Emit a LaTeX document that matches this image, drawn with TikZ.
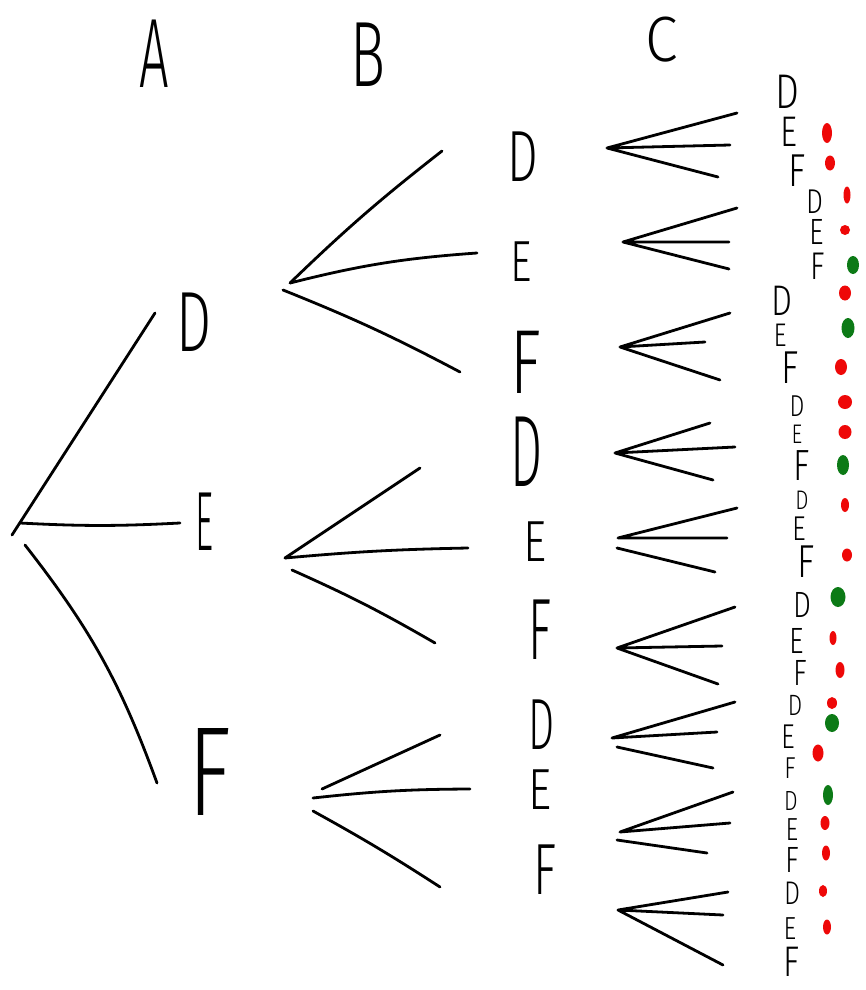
\documentclass[tikz,border=0pt]{standalone}
\usepackage{fontspec}
\usepackage{graphicx}
\newfontfamily\handfont{Fira Sans Light}
\definecolor{dotred}{RGB}{238,8,8}
\definecolor{dotgreen}{RGB}{12,122,22}
% #1 horizontal squeeze, #2 font size (pt), #3 letter
\newcommand\glyph[3]{\scalebox{#1}[1]{\fontsize{#2}{#2}\selectfont\handfont #3}}
% smaller letters of the outcome column
\newcommand\cglyph[2]{\scalebox{0.65}[0.84]{\fontsize{#1}{#1}\selectfont\handfont #2}}
\tikzset{
  stroke/.style={line width=2.8pt, line cap=round, line join=round, black},
  lbl/.style={inner sep=0pt, outer sep=0pt, anchor=center},
  rdot/.style={fill=dotred},
  gdot/.style={fill=dotgreen},
}
\begin{document}
\begin{tikzpicture}[x=1pt,y=1pt]
\fill[white] (0,0) rectangle (865,-990);
\useasboundingbox (0,0) rectangle (865,-990);

% column headers
\node[lbl] (hA) at (154,-54) {\glyph{0.53}{98.6}{A}};
\node[lbl] (hB) at (368,-55) {\glyph{0.63}{92.8}{B}};
\node[lbl] (hC) at (662,-40) {\glyph{0.92}{64}{C}};

% first level
\coordinate (root) at (20,-523);
\coordinate (rootTail) at (12,-535);
\coordinate (rootLow) at (25,-545);
\node[lbl] (D1) at (194,-322) {\glyph{0.65}{85.5}{D}};
\node[lbl] (E1) at (205,-522) {\glyph{0.42}{84}{E}};
\node[lbl] (F1) at (210,-772) {\glyph{0.70}{127}{F}};
\coordinate (tD1) at (155,-313);
\coordinate (tE1) at (180,-523);
\coordinate (tF1) at (157,-783);
\draw[stroke] (rootTail) -- (tD1);
\draw[stroke] (root) to[bend right=3] (tE1);
\draw[stroke] (rootLow) to[bend left=9] (tF1);

% second level, below D
\coordinate (oDa) at (290,-283);
\coordinate (oDb) at (283,-290);
\node[lbl] (DD) at (523,-157) {\glyph{0.67}{72.5}{D}};
\node[lbl] (DE) at (521,-262) {\glyph{0.72}{58}{E}};
\node[lbl] (DF) at (526,-362) {\glyph{0.70}{91}{F}};
\coordinate (tDD) at (442,-151);
\coordinate (tDE) at (477,-253);
\coordinate (tDF) at (460,-372);
\draw[stroke] (oDa) to[bend left=3] (tDD);
\draw[stroke] (oDa) to[bend left=5] (tDE);
\draw[stroke] (oDb) to[bend left=3] (tDF);

% second level, below E
\coordinate (oEa) at (285,-558);
\coordinate (oEb) at (292,-570);
\node[lbl] (ED) at (527,-452) {\glyph{0.50}{101.5}{D}};
\node[lbl] (EE) at (535,-542) {\glyph{0.78}{58}{E}};
\node[lbl] (EF) at (540,-630) {\glyph{0.55}{87}{F}};
\coordinate (tED) at (420,-468);
\coordinate (tEE) at (468,-548);
\coordinate (tEF) at (435,-643);
\draw[stroke] (oEa) -- (tED);
\draw[stroke] (oEa) to[bend left=2] (tEE);
\draw[stroke] (oEb) to[bend left=3] (tEF);

% second level, below F
\coordinate (oFa) at (322,-789);
\coordinate (oFb) at (313,-798);
\coordinate (oFc) at (313,-811);
\node[lbl] (FD) at (542,-725) {\glyph{0.57}{72.5}{D}};
\node[lbl] (FE) at (540,-790) {\glyph{0.78}{58}{E}};
\node[lbl] (FF) at (545,-870) {\glyph{0.66}{72.5}{F}};
\coordinate (tFD) at (440,-735);
\coordinate (tFE) at (470,-789);
\coordinate (tFF) at (440,-887);
\draw[stroke] (oFa) -- (tFD);
\draw[stroke] (oFb) to[bend left=3] (tFE);
\draw[stroke] (oFc) to[bend left=2] (tFF);

% third level fans
\coordinate (o1) at (607,-148);
\coordinate (o2) at (623,-242);
\coordinate (o3) at (620,-347);
\coordinate (o4) at (615,-453);
\coordinate (o5) at (618,-538);
\coordinate (o5l) at (617,-548);
\coordinate (o6) at (617,-648);
\coordinate (o7) at (612,-738);
\coordinate (o7l) at (617,-747);
\coordinate (o8) at (620,-832);
\coordinate (o8l) at (617,-840);
\coordinate (o9) at (618,-910);

\coordinate (t1a) at (737,-113); \coordinate (t1b) at (730,-145); \coordinate (t1c) at (718,-177);
\coordinate (t2a) at (737,-208); \coordinate (t2b) at (729,-242); \coordinate (t2c) at (729,-269);
\coordinate (t3a) at (730,-313); \coordinate (t3b) at (705,-342); \coordinate (t3c) at (720,-380);
\coordinate (t4a) at (710,-423); \coordinate (t4b) at (735,-447); \coordinate (t4c) at (713,-480);
\coordinate (t5a) at (737,-508); \coordinate (t5b) at (727,-538); \coordinate (t5c) at (715,-572);
\coordinate (t6a) at (735,-607); \coordinate (t6b) at (722,-646); \coordinate (t6c) at (718,-684);
\coordinate (t7a) at (735,-702); \coordinate (t7b) at (717,-732); \coordinate (t7c) at (713,-768);
\coordinate (t8a) at (733,-792); \coordinate (t8b) at (730,-823); \coordinate (t8c) at (707,-853);
\coordinate (t9a) at (728,-892); \coordinate (t9b) at (723,-915); \coordinate (t9c) at (723,-965);

\draw[stroke] (o1) -- (t1a) (o1) -- (t1b) (o1) -- (t1c);
\draw[stroke] (o2) -- (t2a) (o2) -- (t2b) (o2) -- (t2c);
\draw[stroke] (o3) -- (t3a) (o3) -- (t3b) (o3) -- (t3c);
\draw[stroke] (o4) -- (t4a) (o4) -- (t4b) (o4) -- (t4c);
\draw[stroke] (o5) -- (t5a) (o5) -- (t5b) (o5l) -- (t5c);
\draw[stroke] (o6) -- (t6a) (o6) -- (t6b) (o6) -- (t6c);
\draw[stroke] (o7) -- (t7a) (o7) -- (t7b) (o7l) -- (t7c);
\draw[stroke] (o8) -- (t8a) (o8) -- (t8b) (o8l) -- (t8c);
\draw[stroke] (o9) -- (t9a) (o9) -- (t9b) (o9) -- (t9c);

% outcome letters
\node[lbl] (c1D) at (787,-92)  {\cglyph{58}{D}};
\node[lbl] (c1E) at (789,-132) {\cglyph{51}{E}};
\node[lbl] (c1F) at (797,-171) {\cglyph{55}{F}};
\node[lbl] (c2D) at (815,-202) {\cglyph{41}{D}};
\node[lbl] (c2E) at (817,-232) {\cglyph{43.5}{E}};
\node[lbl] (c2F) at (818,-266) {\cglyph{46}{F}};
\node[lbl] (c3D) at (782,-301) {\cglyph{51}{D}};
\node[lbl] (c3E) at (780,-335) {\cglyph{39}{E}};
\node[lbl] (c3F) at (790,-368) {\cglyph{55}{F}};
\node[lbl] (c4D) at (797,-406) {\cglyph{36}{D}};
\node[lbl] (c4E) at (797,-434) {\cglyph{32}{E}};
\node[lbl] (c4F) at (802,-466) {\cglyph{52}{F}};
\node[lbl] (c5D) at (802,-500) {\cglyph{32}{D}};
\node[lbl] (c5E) at (799,-529) {\cglyph{41}{E}};
\node[lbl] (c5F) at (806,-562) {\cglyph{55}{F}};
\node[lbl] (c6D) at (802,-605) {\cglyph{43.5}{D}};
\node[lbl] (c6E) at (797,-641) {\cglyph{43.5}{E}};
\node[lbl] (c6F) at (800,-673) {\cglyph{43.5}{F}};
\node[lbl] (c7D) at (795,-705) {\cglyph{35}{D}};
\node[lbl] (c7E) at (788,-737) {\cglyph{41}{E}};
\node[lbl] (c7F) at (790,-768) {\cglyph{36}{F}};
\node[lbl] (c8D) at (791,-801) {\cglyph{33}{D}};
\node[lbl] (c8E) at (792,-830) {\cglyph{38}{E}};
\node[lbl] (c8F) at (792,-860) {\cglyph{43.5}{F}};
\node[lbl] (c9D) at (792,-893) {\cglyph{39}{D}};
\node[lbl] (c9E) at (790,-929) {\cglyph{38}{E}};
\node[lbl] (c9F) at (791,-962) {\cglyph{51}{F}};

% coloured marks beside the outcomes
\fill[rdot] (827,-133) ellipse (5 and 10);
\fill[rdot] (830,-163) ellipse (5 and 7.5);
\fill[rdot] (847,-195) ellipse (3.5 and 8.5);
\fill[rdot] (845,-230) ellipse (5 and 5);
\fill[gdot] (853,-265) ellipse (6 and 9);
\fill[rdot] (845,-293) ellipse (6 and 7.5);
\fill[gdot] (848,-328) ellipse (6.5 and 10);
\fill[rdot] (841,-367) ellipse (6 and 8);
\fill[rdot] (845,-402) ellipse (7 and 7);
\fill[rdot] (845,-432) ellipse (6.5 and 7);
\fill[gdot] (843,-465) ellipse (6 and 10);
\fill[rdot] (845,-505) ellipse (4 and 7);
\fill[rdot] (847,-555) ellipse (5 and 6.5);
\fill[gdot] (838,-597) ellipse (7.5 and 10);
\fill[rdot] (833,-638) ellipse (3.5 and 7);
\fill[rdot] (840,-670) ellipse (4.5 and 8);
\fill[rdot] (832,-703) ellipse (5 and 6);
\fill[gdot] (832,-723) ellipse (7 and 9);
\fill[rdot] (818,-753) ellipse (5.5 and 8.5);
\fill[gdot] (828,-795) ellipse (5 and 10);
\fill[rdot] (825,-823) ellipse (4.5 and 7);
\fill[rdot] (826,-853) ellipse (4 and 7.5);
\fill[rdot] (823,-891) ellipse (4 and 6);
\fill[rdot] (827,-927) ellipse (4 and 7.5);
\end{tikzpicture}
\end{document}
